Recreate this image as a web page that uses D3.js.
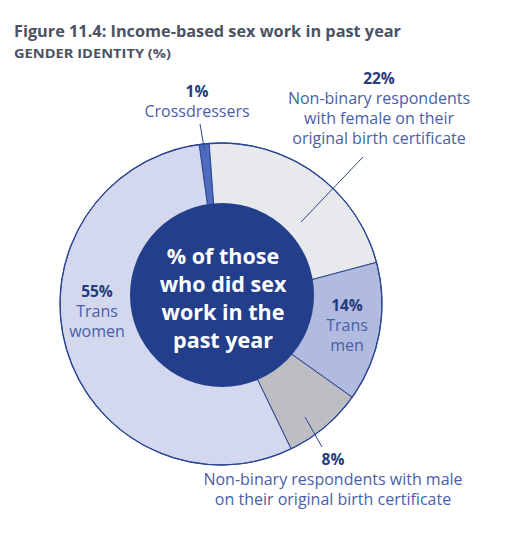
<!DOCTYPE html>
<html>
<head>
<meta charset="utf-8">
<script src="https://cdn.jsdelivr.net/npm/d3@7/dist/d3.min.js"></script>
<style>
  body { margin: 0; background: #fff; }
  svg { display: block; font-family: "Open Sans", Lato, sans-serif; }
</style>
</head>
<body>
<svg id="chart"></svg>
<script>
// Data.
var categories = ["Crossdressers", "Non-binary female", "Trans men", "Non-binary male", "Trans women"];
var values = [1, 22, 14, 8, 55];
var pctLabels = ["1%", "22%", "14%", "8%", "55%"];
var nameLines = [
    ["Crossdressers"],
    ["Non-binary respondents", "with female on their", "original birth certificate"],
    ["Trans", "men"],
    ["Non-binary respondents with male", "on their original birth certificate"],
    ["Trans", "women"]
];
var centerLines = ["% of those", "who did sex", "work in the", "past year"];

//==========================================================================
// Layout and style.
var width = 511, height = 533;
var cx = 221, cy = 304, outerR = 161;
var hole = { dx: 1, dy: -9, r: 92 };
var startDeg = -7.8;

var colors = ["#4d6cbf", "#e8e9ec", "#b1badf", "#bdbec1", "#d3d8ee"];
var lineColor = "#2b4591";
var pctColor = "#253a80";
var nameColor = "#4a5ea9";

// label anchor (x, y of the percentage baseline), relative to the page
var labelPos = [
    { x: 197, y: 97, anchor: "middle" },
    { x: 379, y: 84, anchor: "middle" },
    { x: 347, y: 311, anchor: "middle" },
    { x: 333, y: 465, anchor: "middle" },
    { x: 97, y: 297, anchor: "middle" }
];
// leader lines: [x1, y1, x2, y2], null where none
var leaders = [
    [200, 124, 204.5, 150],
    [363, 157, 301, 222],
    null,
    [322, 447, 305, 417],
    null
];

var svg = d3.select("#chart")
    .attr("width", width)
    .attr("height", height);

// Title
svg.append("text")
    .attr("x", 14).attr("y", 37)
    .attr("fill", "#4b5264")
    .attr("font-size", 15.5)
    .attr("font-weight", 700)
    .attr("textLength", 387)
    .attr("lengthAdjust", "spacingAndGlyphs")
    .text("Figure 11.4: Income-based sex work in past year");
svg.append("text")
    .attr("x", 14).attr("y", 58)
    .attr("fill", "#4b5264")
    .attr("font-size", 12.5)
    .attr("font-weight", 700)
    .attr("textLength", 157)
    .attr("lengthAdjust", "spacingAndGlyphs")
    .text("GENDER IDENTITY (%)");

var pie = d3.pie()
    .sort(null)
    .startAngle(startDeg * Math.PI / 180)
    .endAngle((startDeg + 360) * Math.PI / 180);

var arc = d3.arc()
    .innerRadius(0)
    .outerRadius(outerR);

var chart = svg.append("g")
    .attr("transform", "translate(" + cx + "," + cy + ")");

chart.selectAll(".slice")
    .data(pie(values))
    .enter()
    .append("path")
    .classed("slice", true)
    .attr("d", arc)
    .attr("fill", function(d, i) { return colors[i]; })
    .attr("stroke", lineColor)
    .attr("stroke-width", 1)
    .attr("stroke-linejoin", "round");

chart.append("circle")
    .attr("r", outerR)
    .attr("fill", "none")
    .attr("stroke", lineColor)
    .attr("stroke-width", 1.3);

// Leader lines
svg.selectAll(".leader")
    .data(leaders.filter(function(l) { return l; }))
    .enter()
    .append("line")
    .classed("leader", true)
    .attr("x1", function(d) { return d[0]; })
    .attr("y1", function(d) { return d[1]; })
    .attr("x2", function(d) { return d[2]; })
    .attr("y2", function(d) { return d[3]; })
    .attr("stroke", lineColor)
    .attr("stroke-width", 1);

// Center disc
chart.append("circle")
    .attr("cx", hole.dx)
    .attr("cy", hole.dy)
    .attr("r", hole.r)
    .attr("fill", "#233f8b");

var centerText = chart.append("text")
    .attr("text-anchor", "middle")
    .attr("fill", "#fff")
    .attr("font-size", 21.5)
    .attr("font-weight", 700);
centerText.selectAll("tspan")
    .data(centerLines)
    .enter()
    .append("tspan")
    .attr("x", hole.dx + 1)
    .attr("y", function(d, i) { return -40 + i * 28; })
    .text(function(d) { return d; });

// Slice labels
var labels = svg.selectAll(".label")
    .data(categories)
    .enter()
    .append("g")
    .classed("label", true);

labels.append("text")
    .attr("x", function(d, i) { return labelPos[i].x; })
    .attr("y", function(d, i) { return labelPos[i].y; })
    .attr("text-anchor", function(d, i) { return labelPos[i].anchor; })
    .attr("fill", pctColor)
    .attr("font-size", 15.5)
    .attr("font-weight", 700)
    .text(function(d, i) { return pctLabels[i]; });

labels.each(function(d, i) {
    d3.select(this).selectAll(".name")
        .data(nameLines[i])
        .enter()
        .append("text")
        .classed("name", true)
        .attr("x", labelPos[i].x)
        .attr("y", function(s, j) { return labelPos[i].y + 20 + j * 20; })
        .attr("text-anchor", labelPos[i].anchor)
        .attr("fill", nameColor)
        .attr("font-size", 16)
        .text(function(s) { return s; });
});
</script>
</body>
</html>
